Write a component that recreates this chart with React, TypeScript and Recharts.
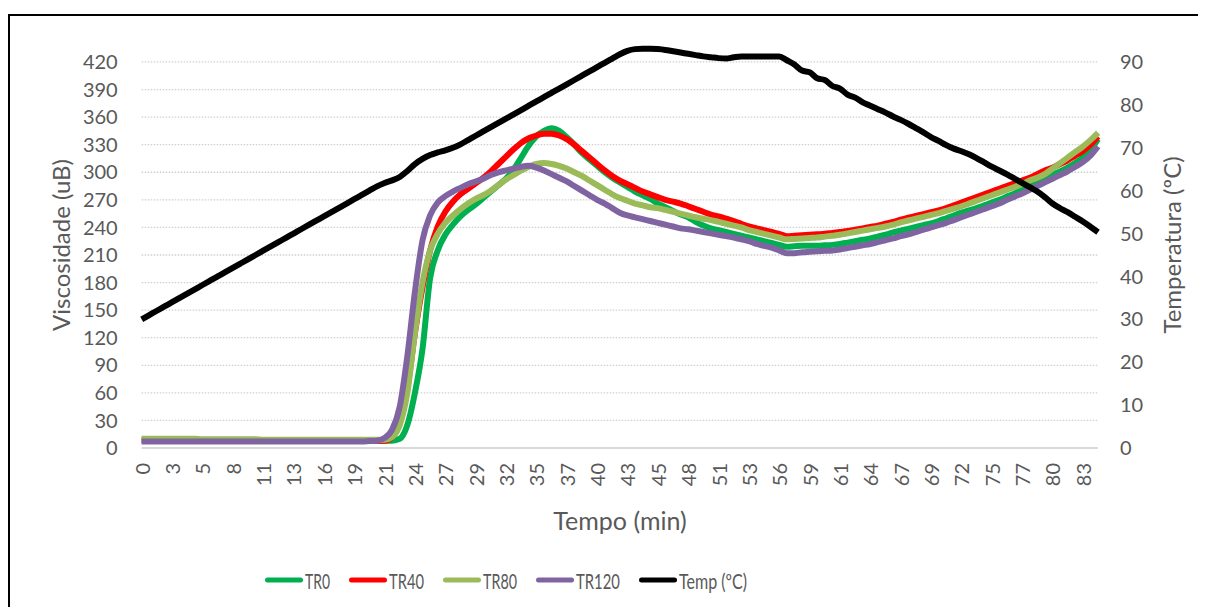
import React from 'react';
import { LineChart, Line, XAxis, YAxis, ReferenceLine, Legend, Label } from 'recharts';

// Category axis: one sample every 2/3 min (0 .. 84 min); a label every 4th sample
const X_TICK_LABELS = ['0','3','5','8','11','13','16','19','21','24','27','29','32','35','37','40','43','45','48','51','53','56','59','61','64','67','69','72','75','77','80','83'];
const VISC_DOMAIN = [0, 450];
const VISC_TICKS = [0, 30, 60, 90, 120, 150, 180, 210, 240, 270, 300, 330, 360, 390, 420];
const TEMP_DOMAIN = [0, 96.43];
const TEMP_TICKS = [0, 10, 20, 30, 40, 50, 60, 70, 80, 90];

const TEMP = [
  30, 31, 32, 33, 34, 35, 36, 37, 38, 39,
  40, 41, 42, 43, 44, 45, 46, 47, 48, 49,
  50, 51, 52, 53, 54, 55, 56, 57, 58, 59,
  60, 61, 61.8, 62.4, 63.2, 64.6, 66.2, 67.4, 68.3, 68.9,
  69.4, 70.0, 70.8, 71.8, 72.8, 73.8, 74.8, 75.8, 76.8, 77.8,
  78.8, 79.8, 80.8, 81.8, 82.8, 83.8, 84.8, 85.8, 86.8, 87.8,
  88.8, 89.8, 90.8, 91.8, 92.6, 93.0, 93.1, 93.1, 93.0, 92.8,
  92.5, 92.2, 91.9, 91.6, 91.3, 91.1, 90.9, 90.8, 91.1, 91.3,
  91.3, 91.3, 91.3, 91.3, 91.3, 90.4, 89.4, 88.0, 87.6, 86.2,
  85.8, 84.4, 83.8, 82.4, 81.7, 80.6, 79.8, 79.0, 78.2, 77.3,
  76.5, 75.6, 74.6, 73.6, 72.5, 71.6, 70.6, 69.8, 69.2, 68.5,
  67.6, 66.6, 65.6, 64.7, 63.8, 62.8, 61.8, 60.8, 59.8, 58.5,
  57.0, 55.9, 55.0, 53.9, 52.8, 51.6, 50.3,
];

const TR0 = [
  9, 9, 9, 9, 9, 9, 9, 8.5, 8.5, 8.5,
  8.5, 8.5, 8.5, 8.5, 8.5, 8.5, 8, 8, 8, 8,
  8, 8, 8, 8, 8, 8, 8, 8, 8, 8,
  8, 8, 8, 8, 10, 25, 60, 108, 185, 215,
  232, 243, 252, 259, 265, 272, 279, 286, 293, 303,
  316, 329, 339, 345, 348, 345, 338, 330, 321, 314,
  307, 300, 294, 289, 284, 279, 275, 271, 266, 262,
  258, 254, 251, 246, 242, 239, 237, 235, 233, 231,
  229, 227, 225, 223, 221, 219, 219.5, 220, 220, 220,
  220.5, 221, 222, 223.5, 225, 226.5, 228, 230, 232, 234.5,
  236.5, 238.5, 240.5, 242.5, 244.5, 247, 250, 253, 256, 258.5,
  261, 264, 267, 270, 273.5, 277, 281, 285, 289, 293,
  297, 301, 305, 310, 316, 324, 336,
];

const TR40 = [
  8, 8, 8, 8, 8, 8, 8, 8, 8, 8,
  8, 8, 8, 8, 8, 8, 8, 8, 8, 8,
  8, 8, 8, 8, 8, 8, 8, 8, 8, 8,
  8, 8, 8, 12, 28, 65, 125, 175, 215, 241,
  257, 268, 276, 282, 288, 294, 301, 309, 317, 325,
  332, 337, 340, 342, 342, 340, 336, 330, 323, 316,
  309, 302, 296, 291, 287, 283, 279, 276, 273, 270,
  268, 266, 263, 260, 257, 254, 252, 249.5, 247, 244,
  241, 239, 237, 235, 233, 230.5, 231, 231.5, 232, 232.5,
  233, 234, 235, 236, 237.5, 239, 240.5, 242, 244, 246,
  248.5, 250.5, 252.5, 254.5, 256.5, 258.5, 261, 264, 267, 270,
  273, 276, 279, 282, 285, 288, 291, 294, 298, 302,
  305, 309, 313, 318, 323, 330, 339,
];

const TR80 = [
  10, 10, 10, 10, 10, 10, 10, 10, 9.5, 9.5,
  9.5, 9.5, 9.5, 9.5, 9.5, 9.5, 9, 9, 9, 9,
  9, 9, 9, 9, 9, 9, 9, 9, 9, 9,
  9, 9, 9, 12, 25, 60, 125, 180, 215, 233,
  245, 253, 260, 266, 271, 275, 280, 286, 292, 297,
  302, 306, 309, 310, 309, 307, 304, 300, 296, 291,
  286, 281, 276, 272, 269, 266, 264, 262, 261, 259,
  257, 255, 253, 251, 249.5, 248, 246, 244, 242, 240,
  237, 235, 233, 231, 229, 227, 227.5, 228, 228.5, 229,
  230, 231, 232, 233.5, 235, 236.5, 238, 239.5, 241, 243,
  245.5, 247.5, 249.5, 251.5, 253.5, 255.5, 258, 260.5, 263, 266,
  269, 272, 275, 278, 281, 284, 287, 291, 294, 298,
  304, 310, 316, 322, 328, 335, 343,
];

const TR120 = [
  7, 7, 7, 7, 7, 7, 7, 7, 7, 7,
  7, 7, 7, 7, 7, 7, 7, 7, 7, 7,
  7, 7, 7, 7, 7, 7, 7, 7, 7, 7,
  7.5, 8, 11, 20, 45, 100, 170, 226, 253, 267,
  274, 279, 283, 287, 290, 293, 297, 300, 302, 304,
  306, 307, 305, 302, 298, 294, 290, 285, 280, 275,
  270, 266, 261, 256, 253, 251, 249, 247, 245, 243,
  241, 239, 238, 236.5, 235, 233.5, 232, 230.5, 229, 227,
  225, 222, 220, 218, 215, 212, 212, 213, 213.5, 214,
  214.5, 215, 216, 217.5, 219, 220.5, 222, 224, 226, 228,
  230.5, 232.5, 235, 237.5, 240, 242.5, 245, 248, 251, 254,
  257, 260, 263, 266, 270, 273.5, 277, 281, 285, 289,
  293, 297, 301, 306, 311, 318, 328,
];

const SERIES = [
  { key: 'tr0', name: 'TR0', color: '#00B050', axis: 'visc', labelWidth: 25 },
  { key: 'tr40', name: 'TR40', color: '#FF0000', axis: 'visc', labelWidth: 35 },
  { key: 'tr80', name: 'TR80', color: '#9BBB59', axis: 'visc', labelWidth: 34 },
  { key: 'tr120', name: 'TR120', color: '#8064A2', axis: 'visc', labelWidth: 44 },
  { key: 'temp', name: 'Temp (ºC)', color: '#000000', axis: 'temp', labelWidth: 68 },
];

const data = TEMP.map((_, i) => ({
  i,
  tr0: TR0[i],
  tr40: TR40[i],
  tr80: TR80[i],
  tr120: TR120[i],
  temp: TEMP[i],
}));

const FONT = 'Lato, "Noto Sans", sans-serif';
const GREY = '#595959';

const XTick = (props: any) => {
  const { x, y, payload } = props;
  const label = X_TICK_LABELS[Math.round(payload.value / 4)];
  if (label === undefined) return null;
  const ty = y + 15;
  return (
    <text
      x={x}
      y={ty}
      transform={`rotate(-90 ${x} ${ty})`}
      textAnchor="end"
      dominantBaseline="central"
      fill={GREY}
      fontSize={20}
      fontFamily={FONT}
    >
      {label}
    </text>
  );
};

const LegendContent = () => (
  <div style={{ display: 'flex', alignItems: 'center', whiteSpace: 'nowrap' }}>
    {SERIES.map((s) => (
      <svg key={s.key} width={40 + s.labelWidth} height={26} style={{ display: 'block', marginRight: 19, overflow: 'visible' }}>
        <line x1={2.5} y1={13} x2={35.5} y2={13} stroke={s.color} strokeWidth={5} strokeLinecap="round" />
        <text
          x={40}
          y={13}
          dominantBaseline="central"
          fill={GREY}
          fontSize={21}
          fontFamily={FONT}
          textLength={s.labelWidth}
          lengthAdjust="spacingAndGlyphs"
        >
          {s.name}
        </text>
      </svg>
    ))}
  </div>
);

export default function App() {
  return (
    <div style={{ position: 'relative', width: 1198, height: 599 }}>
      <style>{'html,body{overflow:hidden}'}</style>
      <div
        style={{
          position: 'absolute',
          left: 0,
          top: 6,
          width: 1210,
          height: 620,
          borderLeft: '2px solid #000',
          borderTop: '2px solid #000',
          boxSizing: 'border-box',
        }}
      />
      <div style={{ position: 'absolute', left: 0, top: 0 }}>
        <LineChart
          width={1198}
          height={600}
          data={data}
          margin={{ top: 26.4, right: 0, bottom: 0, left: 0 }}
        >
          <XAxis
            dataKey="i"
            type="category"
            interval={3}
            height={160}
            tickSize={0}
            tickMargin={0}
            tick={<XTick />}
            axisLine={{ stroke: '#D9D9D9', strokeWidth: 2 }}
            tickLine={false}
          >
            <Label
              content={() => (
                <text x={612} y={512} textAnchor="middle" dominantBaseline="central" fill={GREY} fontSize={25} fontFamily={FONT}>
                  Tempo (min)
                </text>
              )}
            />
          </XAxis>
          <YAxis
            yAxisId="visc"
            orientation="left"
            width={133.7}
            domain={VISC_DOMAIN}
            ticks={VISC_TICKS}
            interval={0}
            axisLine={false}
            tickLine={false}
            tickSize={0}
            tickMargin={24}
            tick={{ fill: GREY, fontSize: 20, fontFamily: FONT }}
          >
            <Label
              content={() => (
                <text x={52} y={237} transform="rotate(-90 52 237)" textAnchor="middle" dominantBaseline="central" fill={GREY} fontSize={24} fontFamily={FONT}>
                  Viscosidade (uB)
                </text>
              )}
            />
          </YAxis>
          <YAxis
            yAxisId="temp"
            orientation="right"
            width={108}
            domain={TEMP_DOMAIN}
            ticks={TEMP_TICKS}
            interval={0}
            axisLine={false}
            tickLine={false}
            tickSize={0}
            tickMargin={22}
            tick={{ fill: GREY, fontSize: 20, fontFamily: FONT }}
          >
            <Label
              content={() => (
                <text x={1163.5} y={237} transform="rotate(-90 1163.5 237)" textAnchor="middle" dominantBaseline="central" fill={GREY} fontSize={24} fontFamily={FONT}>
                  Temperatura (ºC)
                </text>
              )}
            />
          </YAxis>
          {VISC_TICKS.filter((v) => v > 0).map((v) => (
            <ReferenceLine
              key={`grid-${v}`}
              yAxisId="visc"
              y={v}
              stroke="#CFCFCF"
              strokeWidth={1.3}
              strokeDasharray="1.5 1.5"
            />
          ))}
          {SERIES.map((s) => (
            <Line
              key={s.key}
              yAxisId={s.axis}
              dataKey={s.key}
              name={s.name}
              type="monotone"
              stroke={s.color}
              strokeWidth={6}
              strokeLinejoin="round"
              dot={false}
              activeDot={false}
              isAnimationActive={false}
            />
          ))}
          <Legend
            layout="horizontal"
            verticalAlign="middle"
            align="center"
            content={<LegendContent />}
            wrapperStyle={{ left: 257, top: 559, width: 'auto' }}
          />
        </LineChart>
      </div>
    </div>
  );
}
